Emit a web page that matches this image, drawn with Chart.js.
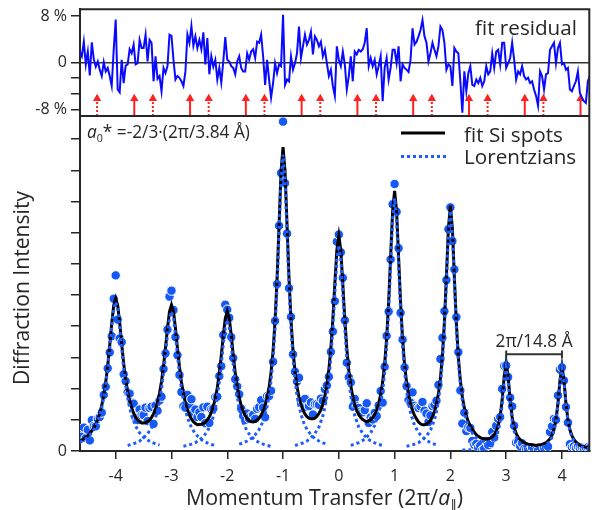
<!DOCTYPE html>
<html><head><meta charset="utf-8">
<script src="https://cdn.jsdelivr.net/npm/chart.js@4.4.1/dist/chart.umd.min.js"></script>
<style>html,body{margin:0;padding:0;background:#fff;}canvas{display:block;}</style>
</head><body>
<canvas id="c" width="595" height="510"></canvas>
<script>
// ---- momentum-transfer sampling grid (units of 2π/a∥) ----
const qStart = -4.6429, qStep = 0.035714;

// ---- measured diffraction intensity ----
const intensity = [
.51,.46,.75,.41,.68,.34,.99,.80,.79,1.03,
1.09,1.23,1.80,2.06,2.65,3.16,3.68,4.88,5.63,4.21,
3.61,3.49,2.46,2.24,1.88,1.84,1.55,1.52,1.06,.99,
1.33,1.15,1.15,1.39,.96,1.38,1.42,.87,1.46,1.29,
1.62,1.74,2.63,3.13,3.89,4.95,5.14,4.52,3.65,3.07,
2.44,1.89,1.43,1.39,1.80,1.49,1.66,1.23,1.33,1.09,
1.24,1.09,1.40,.89,1.42,.90,1.34,1.36,1.73,1.74,
2.40,2.72,3.72,4.69,4.53,4.27,3.65,2.98,2.30,2.07,
1.82,1.36,1.12,.99,1.20,1.03,1.13,1.16,1.03,1.35,
1.40,1.63,1.39,1.08,1.76,1.76,1.93,2.86,4.17,5.35,
7.22,8.91,10.56,8.59,6.97,5.22,4.30,3.10,2.54,2.23,
2.35,1.57,1.59,1.67,1.41,1.44,1.56,1.17,1.50,1.50,
1.48,1.68,1.61,1.98,2.10,2.38,3.18,3.83,4.80,6.71,
6.94,6.37,5.55,4.19,2.83,2.36,2.20,1.42,1.67,1.43,
1.38,1.26,1.24,1.31,1.53,.90,1.08,1.01,1.22,1.12,
1.46,1.92,1.55,2.70,3.69,4.47,6.14,7.91,8.56,7.67,
6.50,4.43,3.57,2.68,2.08,1.63,1.55,1.88,1.45,1.39,
1.38,1.43,1.57,1.29,1.20,.93,1.14,1.44,1.48,1.61,
2.12,2.95,3.63,4.48,5.48,7.11,7.81,6.73,5.82,4.29,
3.17,1.94,.88,1.23,.64,.76,.74,.32,.20,.23,
.12,.17,.03,.07,.32,.19,.26,.61,.43,.81,
1.03,1.09,1.99,2.73,2.74,2.37,1.71,1.43,.81,.27,
.29,.16,.25,.06,.05,.08,.04,.10,.06,.03,
.02,.09,.05,.12,.10,.14,.61,.79,1.03,1.00,
1.78,2.61,2.68,2.26,1.41,.91,.22,.12,.15,.10,
.14,.09,.11,.08,.10,.12,.10];

// ---- fit of the Si spots (sum of Lorentzians) ----
const fitSi = [
.32,.35,.39,.44,.49,.56,.64,.74,.86,1.01,
1.21,1.46,1.79,2.21,2.74,3.39,4.08,4.66,4.89,4.67,
4.12,3.44,2.81,2.29,1.91,1.61,1.39,1.21,1.09,1.00,
.94,.90,.90,.91,.94,.99,1.08,1.19,1.35,1.57,
1.85,2.23,2.72,3.31,3.95,4.47,4.68,4.47,3.94,3.30,
2.70,2.21,1.83,1.54,1.32,1.15,1.03,.94,.88,.84,
.85,.86,.88,.92,1.00,1.10,1.23,1.43,1.68,2.03,
2.49,3.06,3.70,4.25,4.48,4.25,3.71,3.07,2.50,2.05,
1.71,1.45,1.27,1.14,1.04,.98,.94,.93,.95,.99,
1.06,1.15,1.28,1.46,1.71,2.05,2.53,3.21,4.18,5.53,
7.25,8.97,9.74,8.97,7.26,5.54,4.19,3.22,2.55,2.07,
1.73,1.49,1.31,1.19,1.10,1.05,1.03,1.03,1.05,1.11,
1.20,1.32,1.50,1.76,2.11,2.61,3.30,4.23,5.37,6.43,
6.89,6.43,5.36,4.22,3.29,2.59,2.09,1.74,1.48,1.29,
1.16,1.07,1.01,.97,.94,.96,1.00,1.07,1.17,1.32,
1.52,1.81,2.21,2.79,3.61,4.76,6.23,7.69,8.34,7.68,
6.22,4.75,3.60,2.77,2.20,1.79,1.50,1.29,1.14,1.03,
.93,.87,.84,.84,.86,.91,.98,1.10,1.26,1.50,
1.84,2.33,3.07,4.14,5.60,7.14,7.87,7.13,5.57,4.10,
3.01,2.26,1.74,1.38,1.13,.94,.80,.70,.60,.52,
.47,.43,.40,.39,.38,.39,.41,.45,.52,.62,
.81,1.12,1.65,2.39,2.83,2.38,1.63,1.09,.76,.56,
.44,.36,.31,.27,.24,.22,.21,.20,.19,.18,
.19,.20,.21,.24,.27,.32,.39,.51,.69,1.01,
1.53,2.27,2.71,2.27,1.53,1.00,.68,.49,.37,.29,
.23,.19,.16,.14,.12,.11,.10];

// ---- fit residual (%) ----
const residual = [
1.9,1.1,3.6,-0.3,1.9,-2.2,3.5,0.6,-0.7,0.2,
-1.2,-2.3,0.1,-1.5,-0.9,-2.3,-4.0,2.2,7.4,-4.6,
-5.1,0.5,-3.5,-0.5,-0.3,2.3,1.6,3.1,-0.3,-0.1,
3.9,2.5,2.5,4.8,0.2,3.9,3.4,-3.2,1.1,-2.8,
-2.3,-4.9,-0.9,-1.8,-0.6,4.8,4.6,0.5,-2.9,-2.3,
-2.6,-3.2,-4.0,-1.5,4.8,3.4,6.3,2.9,4.5,2.5,
3.9,2.3,5.2,-0.3,4.2,-2.0,1.1,-0.7,0.5,-2.9,
-0.9,-3.4,0.2,4.4,0.5,0.2,-0.6,-0.9,-2.0,0.2,
1.1,-0.9,-1.5,-1.5,
1.6,0.5,1.9,2.3,0.8,3.6,3.4,4.8,1.1,-3.8,
0.5,-2.9,-6.0,-3.5,-0.1,-1.8,-0.3,-0.6,8.2,-3.8,
-2.9,-3.2,1.1,-1.2,-0.1,1.6,6.2,0.8,2.8,4.8,
3.1,3.9,5.3,1.4,4.5,3.9,2.8,3.6,1.1,2.2,
-0.1,-2.3,-1.2,-4.0,-5.7,2.8,0.5,-0.6,1.9,-0.3,
-4.6,-2.3,1.1,-3.2,1.9,1.4,2.2,1.9,2.3,3.4,
5.9,-0.6,0.8,-0.6,0.5,-2.0,-0.6,1.1,-6.6,-0.9,
0.8,-2.9,-0.9,2.2,2.2,-0.1,2.8,-3.2,-0.3,-0.9,
-1.2,-1.6,0.5,5.9,3.1,
3.6,4.5,
5.6,7.3,4.5,3.4,0.2,1.6,3.4,2.2,1.1,2.8,
6.2,5.6,3.4,-1.2,-0.3,-0.6,-4.0,2.5,1.9,1.6,
-3.2,-8.6,-1.5,-4.9,-1.8,-0.6,-3.8,-4.0,-2.9,-3.5,
-2.6,-4.0,-3.2,-0.6,-2.0,-1.5,1.6,-0.9,1.9,2.2,
-0.3,3.4,3.4,-0.9,-0.1,0.8,3.4,0.5,-2.9,-1.5,
-2.0,-0.6,-2.3,-2.9,-2.6,-3.5,-3.2,-4.6,-5.7,-7.4,
-1.5,-2.3,-4.6,-2.0,-1.8,2.2,2.8,3.4,-0.1,2.5,
3.4,-0.3,-0.1,-1.2,-0.9,-4.6,-4.9,-4.0,-3.2,-1.5,
-5.2,-6.0,-6.6,-6.9,-3.2,-2.3];

// ---- individual Lorentzians (one per Si spot) ----
const peakCenters = [-4,-3,-2,-1,0,1,2,3,4];
const lorentzOffsets = [-0.786,-0.714,-0.643,-0.571,-0.5,-0.429,-0.357,-0.286,-0.25,-0.214,-0.179,-0.143,-0.107,-0.071,-0.036,0,
  0.036,0.071,0.107,0.143,0.179,0.214,0.25,0.286,0.357,0.429,0.5,0.571,0.643,0.714,0.786];
const lorentzM4 = [.19,.23,.28,.35,.44,.58,.80,1.14,1.39,1.71,2.13,2.66,3.30,3.99,4.55,4.78,4.55,3.99,3.30,2.66,2.13,1.71,1.39,1.14,.80,.58,.44,.35,.28,.23,.19];
const lorentzM3 = [.18,.21,.26,.32,.42,.55,.75,1.07,1.30,1.60,1.99,2.49,3.08,3.73,4.26,4.47,4.26,3.73,3.08,2.49,1.99,1.60,1.30,1.07,.75,.55,.42,.32,.26,.21,.18];
const lorentzM2 = [.15,.18,.22,.27,.35,.46,.63,.91,1.11,1.38,1.74,2.20,2.78,3.42,3.97,4.20,3.97,3.42,2.78,2.20,1.74,1.38,1.11,.91,.63,.46,.35,.27,.22,.18,.15];
const lorentzM1 = [.22,.26,.32,.40,.52,.69,.96,1.43,1.78,2.27,2.96,3.93,5.28,7.01,8.73,9.50,8.73,7.01,5.28,3.93,2.96,2.27,1.78,1.43,.96,.69,.52,.40,.32,.26,.22];
const lorentz0  = [.18,.21,.26,.32,.42,.56,.77,1.13,1.41,1.78,2.28,2.99,3.93,5.07,6.14,6.60,6.14,5.07,3.93,2.99,2.28,1.78,1.41,1.13,.77,.56,.42,.32,.26,.21,.18];
const lorentzP1 = [.18,.22,.27,.34,.44,.59,.82,1.22,1.52,1.93,2.52,3.35,4.50,5.98,7.44,8.10,7.44,5.98,4.50,3.35,2.52,1.93,1.52,1.22,.82,.59,.44,.34,.27,.22,.18];
const lorentzP2 = [.15,.18,.22,.27,.36,.48,.67,.99,1.25,1.61,2.12,2.86,3.95,5.42,6.97,7.70,6.97,5.42,3.95,2.86,2.12,1.61,1.25,.99,.67,.48,.36,.27,.22,.18,.15];
const lorentzP3 = [.03,.03,.04,.05,.07,.09,.13,.20,.25,.33,.45,.64,.97,1.50,2.25,2.70,2.25,1.50,.97,.64,.45,.33,.25,.20,.13,.09,.07,.05,.04,.03,.03];
const lorentzP4 = [.03,.03,.04,.05,.07,.09,.13,.19,.25,.33,.44,.64,.95,1.48,2.22,2.66,2.22,1.48,.95,.64,.44,.33,.25,.19,.13,.09,.07,.05,.04,.03,.03];
const lorentzians = [lorentzM4,lorentzM3,lorentzM2,lorentzM1,lorentz0,lorentzP1,lorentzP2,lorentzP3,lorentzP4];

// ---- arrow markers in residual panel ----
const arrowSolidX  = [-3.667,-2.667,-1.667,-0.667,0.333,1.333,2.333,3.333,4.333];
const arrowDottedX = [-4.333,-3.333,-2.333,-1.333,-0.333,0.667,1.667,2.667,3.667];

// ---- ticks ----
const xTickValues = [-4,-3,-2,-1,0,1,2,3,4];
const xTickLabels = ['-4','-3','-2','-1','0','1','2','3','4'];
const yTickValues = [0,1,2,3,4,5,6,7,8,9,10];
const residualTickValues = [-8,-5.33,-2.67,0,8];
const residualTickLabels = ['-8 %','','','0','8 %'];

// ---- build ----
const FAM = "'Open Sans','DejaVu Sans',sans-serif";
const INK = '#262626';
const gridPts = arr => arr.map((v,i) => ({x: qStart + i*qStep, y: v}));
const Q_MIN = -4.64, Q_MAX = 4.49, RES_LIM = 9.15, I_MAX = 10.74;
const ARROW_TOP = -6.3, ARROW_HEAD = -6.15;
function shafts(xs){ const d=[]; xs.forEach(x=>{ d.push({x:x,y:-RES_LIM},{x:x,y:ARROW_TOP},{x:x,y:null}); }); return d; }

const datasets = [];
lorentzians.forEach((vals, p) => {
  datasets.push({type:'line', yAxisID:'y', order:0,
    data: vals.map((v,k)=>({x: peakCenters[p] + lorentzOffsets[k], y: v})),
    borderColor:'#1e5cff', borderWidth:3, borderDash:[3,3], pointRadius:0, tension:0});
});
datasets.push({type:'line', yAxisID:'y', order:1, data: gridPts(fitSi),
  borderColor:'#000', borderWidth:3, pointRadius:0, tension:0});
datasets.push({type:'line', yAxisID:'y', order:2, data: gridPts(intensity), showLine:false,
  pointRadius:4.7, pointBackgroundColor:'#1558f5', pointBorderColor:'#ffffff', pointBorderWidth:1});
datasets.push({type:'line', yAxisID:'yr', order:5, data:[{x:Q_MIN,y:0},{x:Q_MAX,y:0}],
  borderColor:'#333', borderWidth:1.5, pointRadius:0});
datasets.push({type:'line', yAxisID:'yr', order:3, data: gridPts(residual),
  borderColor:'#0a0aff', borderWidth:2, pointRadius:0, tension:0});
datasets.push({type:'line', yAxisID:'yr', order:4, data: shafts(arrowSolidX), spanGaps:false,
  borderColor:'#ff2020', borderWidth:2, pointRadius:0});
datasets.push({type:'line', yAxisID:'yr', order:4, data: shafts(arrowDottedX), spanGaps:false,
  borderColor:'#ff2020', borderWidth:2, borderDash:[2,2], pointRadius:0});
datasets.push({type:'line', yAxisID:'yr', order:4, showLine:false,
  data: arrowSolidX.concat(arrowDottedX).map(x=>({x:x,y:ARROW_HEAD})),
  pointStyle:'triangle', pointRadius:4.8, pointBackgroundColor:'#ff2020', pointBorderWidth:0});

function richWidth(ctx, parts, size){ let w=0; parts.forEach(p=>{ ctx.font=`${p.style||''} ${size*(p.rel||1)}px ${FAM}`; w+=ctx.measureText(p.t).width; }); return w; }
function drawRich(ctx, parts, x, y, opt){
  let size = opt.size;
  if (opt.width) size = size * opt.width / richWidth(ctx, parts, size);
  const w = richWidth(ctx, parts, size);
  ctx.save(); ctx.translate(x, y); if (opt.angle) ctx.rotate(opt.angle);
  ctx.textAlign='left'; ctx.textBaseline='alphabetic'; ctx.fillStyle = INK;
  let cx = opt.align==='center' ? -w/2 : 0;
  parts.forEach(p=>{ ctx.font=`${p.style||''} ${size*(p.rel||1)}px ${FAM}`; ctx.fillText(p.t, cx, (p.dy||0)*size); cx += ctx.measureText(p.t).width; });
  ctx.restore();
  return size;
}

const decor = {
  id:'decor',
  afterDraw(chart){
    const ctx = chart.ctx, a = chart.chartArea, xs = chart.scales.x, yr = chart.scales.yr;
    ctx.save();
    ctx.strokeStyle = INK; ctx.lineWidth = 2;
    ctx.beginPath();
    ctx.moveTo(a.left, a.top); ctx.lineTo(a.right, a.top); ctx.lineTo(a.right, a.bottom);
    ctx.moveTo(a.left, yr.bottom); ctx.lineTo(a.right, yr.bottom);
    ctx.stroke();
    // legend samples
    ctx.lineWidth = 3; ctx.strokeStyle = '#000';
    ctx.beginPath(); ctx.moveTo(401, 133); ctx.lineTo(445, 133); ctx.stroke();
    ctx.strokeStyle = '#1e5cff'; ctx.setLineDash([3,3]);
    ctx.beginPath(); ctx.moveTo(401, 156.5); ctx.lineTo(446, 156.5); ctx.stroke();
    ctx.setLineDash([]);
    // bracket between spots 3 and 4
    const b1 = xs.getPixelForValue(3), b2 = xs.getPixelForValue(4);
    ctx.strokeStyle = '#333'; ctx.lineWidth = 2;
    ctx.beginPath();
    ctx.moveTo(b1, 354.3); ctx.lineTo(b2, 354.3);
    ctx.moveTo(b1, 350.5); ctx.lineTo(b1, 358.3);
    ctx.moveTo(b2, 350.5); ctx.lineTo(b2, 358.3);
    ctx.stroke();
    ctx.restore();
    // texts
    drawRich(ctx, [{t:'fit residual'}], 475, 35, {size:21, width:102});
    const ls = drawRich(ctx, [{t:'fit Si spots'}], 464, 142, {size:20, width:99});
    drawRich(ctx, [{t:'Lorentzians'}], 464, 164, {size:ls});
    drawRich(ctx, [{t:'a', style:'italic'}, {t:'0', rel:0.62, dy:0.25}, {t:'* =-2/3·(2π/3.84 Å)'}], 87, 138, {size:17, width:163});
    drawRich(ctx, [{t:'2π/14.8 Å'}], (b1+b2)/2, 347, {size:17, width:77, align:'center'});
    drawRich(ctx, [{t:'Momentum Transfer (2π/'}, {t:'a', style:'italic'}, {t:'∥', rel:0.6, dy:0.2}, {t:')'}], 324.5, 505, {size:20, width:277, align:'center'});
    drawRich(ctx, [{t:'Diffraction Intensity'}], 29, 288, {size:20, width:194, align:'center', angle:-Math.PI/2});
  }
};

function noPadV(s, w){ s.width = w; s.paddingTop = 0; s.paddingBottom = 0; }
const tickFont = {family: FAM, size: 16};
new Chart(document.getElementById('c'), {
  type:'line',
  data:{datasets},
  options:{
    responsive:false, animation:false, devicePixelRatio:1,
    layout:{padding:{top:9.3, right:1.5, left:0, bottom:0}},
    plugins:{legend:{display:false}, tooltip:{enabled:false}},
    scales:{
      x:{type:'linear', position:'bottom', min:Q_MIN, max:Q_MAX,
        afterBuildTicks: s => { s.ticks = xTickValues.map(v=>({value:v})); },
        afterFit: s => { s.height = 59; s.paddingLeft = 0; s.paddingRight = 0; },
        grid:{drawOnChartArea:false, drawTicks:true, tickLength:8, color:INK, lineWidth:1.5},
        border:{display:true, color:INK, width:2},
        ticks:{font:tickFont, color:INK, padding:8, maxRotation:0, autoSkip:false,
          callback:(v,i)=>xTickLabels[i]}},
      y:{type:'linear', position:'left', stack:'panels', stackWeight:335, min:0, max:I_MAX,
        afterBuildTicks: s => { s.ticks = yTickValues.map(v=>({value:v})); },
        afterFit: s => noPadV(s, 80),
        grid:{drawOnChartArea:false, drawTicks:true, tickLength:9, color:INK, lineWidth:1.5},
        border:{display:true, color:INK, width:2},
        ticks:{font:{family:FAM, size:16}, color:INK, padding:4, autoSkip:false,
          callback:(v)=> v===0 ? '0' : ''}},
      yr:{type:'linear', position:'left', stack:'panels', stackWeight:106.7, min:-RES_LIM, max:RES_LIM,
        afterBuildTicks: s => { s.ticks = residualTickValues.map(v=>({value:v})); },
        afterFit: s => noPadV(s, 80),
        grid:{drawOnChartArea:false, drawTicks:true, tickLength:9, color:INK, lineWidth:1.5},
        border:{display:true, color:INK, width:2},
        ticks:{font:{family:FAM, size:16}, color:INK, padding:4, autoSkip:false,
          callback:(v,i)=>residualTickLabels[i]}}
    }
  },
  plugins:[decor]
});
</script>
</body></html>
